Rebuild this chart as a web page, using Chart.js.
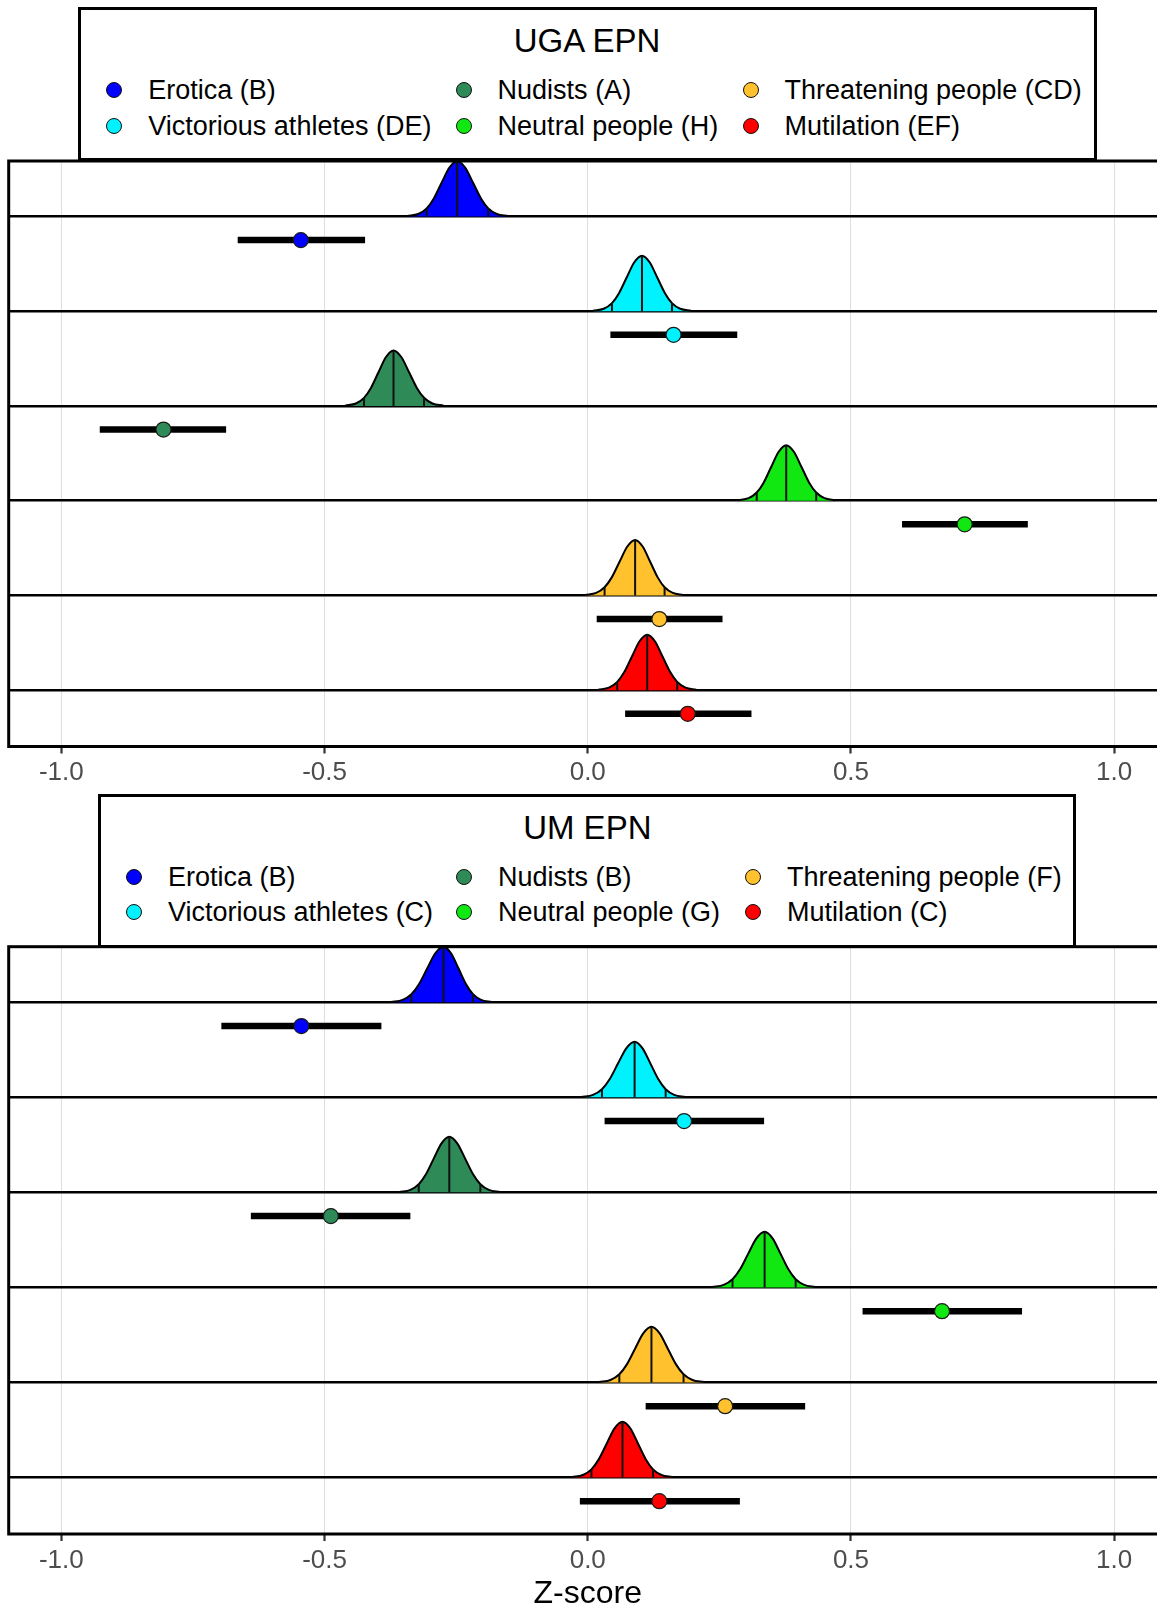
<!DOCTYPE html>
<html>
<head>
<meta charset="utf-8">
<title>EPN ridge plots</title>
<script src="https://cdn.jsdelivr.net/npm/chart.js@4.4.1/dist/chart.umd.min.js"></script>
<style>
  html, body { margin: 0; padding: 0; background: #fff; overflow: hidden; width: 1157px; height: 1610px; }
  canvas { position: absolute; left: 0; }
  .legend {
    position: absolute; background: #fff; border: 3px solid #000; box-sizing: border-box;
    font-family: 'Liberation Sans', Arial, sans-serif; color: #000; z-index: 2;
  }
  .legend .title { position: absolute; left: 0; right: 0; text-align: center; font-size: 33px; line-height: 40px; }
  .legend .dot { position: absolute; width: 16px; height: 16px; border-radius: 50%; border: 1px solid #111; box-sizing: border-box; }
  .legend .lab { position: absolute; font-size: 27px; line-height: 34px; white-space: nowrap; }
</style>
</head>
<body>
<div id="legend-uga" class="legend" style="left:77.5px; top:6.7px; width:1019px; height:154px;"></div>
<canvas id="uga" width="1180" height="800" style="top:0px; width:1180px; height:800px;"></canvas>
<div id="legend-um" class="legend" style="left:98.3px; top:793.6px; width:978px; height:154px;"></div>
<canvas id="um" width="1180" height="810" style="top:800px; width:1180px; height:810px;"></canvas>

<script>
// --- categories, top row to bottom row ---
const categories = ['Erotica', 'Victorious athletes', 'Nudists', 'Neutral people', 'Threatening people', 'Mutilation'];
const catColors = ['#0000FF', '#00F2FF', '#2E8B57', '#11E811', '#FFC12E', '#FF0000'];

// letter groupings shown in the legends
const ugaLetters = ['B', 'DE', 'A', 'H', 'CD', 'EF'];
const umLetters = ['B', 'C', 'B', 'G', 'F', 'C'];

// --- UGA EPN: posterior density (median, 2.5%, 97.5%) ---
const ugaDensMedian = [-0.248, 0.103, -0.369, 0.377, 0.090, 0.113];
const ugaDensLo = [-0.306, 0.046, -0.425, 0.321, 0.032, 0.056];
const ugaDensHi = [-0.189, 0.160, -0.311, 0.434, 0.146, 0.170];
// --- UGA EPN: observed estimate with interval ---
const ugaEst = [-0.545, 0.163, -0.806, 0.716, 0.136, 0.190];
const ugaCiLo = [-0.665, 0.043, -0.927, 0.597, 0.017, 0.071];
const ugaCiHi = [-0.423, 0.284, -0.687, 0.836, 0.256, 0.311];

// --- UM EPN ---
const umDensMedian = [-0.274, 0.089, -0.263, 0.336, 0.121, 0.066];
const umDensLo = [-0.335, 0.027, -0.321, 0.275, 0.060, 0.007];
const umDensHi = [-0.218, 0.148, -0.204, 0.395, 0.182, 0.124];
const umEst = [-0.544, 0.183, -0.488, 0.673, 0.261, 0.136];
const umCiLo = [-0.696, 0.032, -0.640, 0.522, 0.110, -0.015];
const umCiHi = [-0.392, 0.335, -0.337, 0.825, 0.413, 0.289];

// ridge outline: offsets in sd units -> height relative to the peak
const ridgeSd = [-3.2, -2.5, -1.96, -1.5, -1, -0.5, 0, 0.5, 1, 1.5, 1.96, 2.5, 3.2];
const ridgeRel = [0.006, 0.044, 0.146, 0.325, 0.607, 0.882, 1, 0.882, 0.607, 0.325, 0.146, 0.044, 0.006];

const xTickValues = [-1.0, -0.5, 0.0, 0.5, 1.0];

Chart.defaults.font.family = "'Liberation Sans', Arial, sans-serif";

const PEAK = 0.585;     // ridge height, in rows
const POINT_DROP = 0.25; // estimate sits this far under its baseline

const panelFrame = {
  id: 'panelFrame',
  afterDatasetsDraw(chart) {
    const { ctx, chartArea: a } = chart;
    ctx.save();
    ctx.strokeStyle = '#000';
    ctx.lineWidth = 3;
    ctx.strokeRect(a.left, a.top, a.right - a.left, a.bottom - a.top);
    ctx.restore();
  }
};

function buildDatasets(med, lo, hi, est, ciLo, ciHi) {
  const sets = [];
  const n = categories.length;
  categories.forEach((cat, i) => {
    const base = n - 1 - i;
    const color = catColors[i];
    const sdL = (med[i] - lo[i]) / 1.96;
    const sdR = (hi[i] - med[i]) / 1.96;

    const curve = ridgeSd.map((s, k) => ({
      x: med[i] + s * (s < 0 ? sdL : sdR),
      y: base + ridgeRel[k] * PEAK
    }));
    sets.push({
      type: 'line', data: curve, order: 3,
      borderColor: '#000', borderWidth: 2, backgroundColor: color,
      fill: { value: base }, pointRadius: 0, cubicInterpolationMode: 'monotone'
    });

    // quantile lines at 2.5%, median, 97.5%
    [[lo[i], 2], [med[i], 6], [hi[i], 10]].forEach(([qx, k]) => {
      sets.push({
        type: 'line', order: 2,
        data: [{ x: qx, y: base }, { x: qx, y: base + ridgeRel[k] * PEAK }],
        borderColor: '#111', borderWidth: 2, pointRadius: 0, fill: false
      });
    });

    const yp = base - POINT_DROP;
    sets.push({
      type: 'line', order: 1,
      data: [{ x: ciLo[i], y: yp }, { x: ciHi[i], y: yp }],
      borderColor: '#000', borderWidth: 6.5, borderCapStyle: 'butt', pointRadius: 0, fill: false
    });
    sets.push({
      type: 'scatter', order: 0, label: cat,
      data: [{ x: est[i], y: yp }],
      pointRadius: 7.5, pointBackgroundColor: color, pointBorderColor: '#1a1a1a', pointBorderWidth: 1.2
    });
  });
  return sets;
}

function makePanel(id, datasets, opts) {
  return new Chart(document.getElementById(id), {
    type: 'line',
    data: { datasets },
    plugins: [panelFrame],
    options: {
      responsive: false,
      animation: false,
      events: [],
      devicePixelRatio: 1,
      layout: { padding: { left: 7.8, right: 13.2, top: opts.padTop, bottom: opts.padBottom } },
      plugins: { legend: { display: false }, tooltip: { enabled: false } },
      scales: {
        x: {
          type: 'linear', min: -1.1, max: 1.1,
          afterBuildTicks: s => { s.ticks = xTickValues.map(v => ({ value: v })); },
          afterFit: s => { s.height = opts.axisHeight; },
          border: { display: false },
          grid: { color: '#DEDEDE', lineWidth: 1, tickColor: '#333', tickLength: 7, tickWidth: 2.2 },
          ticks: {
            color: '#4D4D4D', font: { size: 26 }, padding: 4, maxRotation: 0, autoSkip: false,
            callback: v => v.toFixed(1)
          },
          title: opts.title
            ? { display: true, text: opts.title, color: '#000', font: { size: 32, lineHeight: 1 }, padding: { top: 0, bottom: 0 } }
            : { display: false }
        },
        y: {
          type: 'linear', min: -0.595, max: 5.585,
          afterBuildTicks: s => { s.ticks = categories.map((c, i) => ({ value: i })); },
          afterFit: s => { s.width = 0; },
          border: { display: false },
          grid: { color: '#000', lineWidth: 2.6, drawTicks: false },
          ticks: { display: false }
        }
      }
    }
  });
}

function buildLegend(id, title, letters, dotX) {
  const box = document.getElementById(id);
  const boxLeft = box.getBoundingClientRect().left + 3; // inside the border
  let html = `<div class="title" style="top:${34.6 - 3 - 20}px">${title}</div>`;
  categories.forEach((cat, i) => {
    const col = Math.floor(i / 2), row = i % 2;
    const cy = (row === 0 ? 83.8 : 118.9) - 3;
    const cx = dotX[col] - boxLeft;
    html += `<div class="dot" style="left:${cx - 8}px; top:${cy - 8}px; background:${catColors[i]}"></div>`;
    html += `<div class="lab" style="left:${cx + 34}px; top:${cy - 17}px">${cat} (${letters[i]})</div>`;
  });
  box.innerHTML = html;
}

buildLegend('legend-uga', 'UGA EPN', ugaLetters, [114.3, 463.6, 750.5]);
buildLegend('legend-um', 'UM EPN', umLetters, [134, 464, 753]);

makePanel('uga', buildDatasets(ugaDensMedian, ugaDensLo, ugaDensHi, ugaEst, ugaCiLo, ugaCiHi),
  { padTop: 161, padBottom: 9.5, axisHeight: 44 });
makePanel('um', buildDatasets(umDensMedian, umDensLo, umDensHi, umEst, umCiLo, umCiHi),
  { padTop: 146.7, padBottom: 0, axisHeight: 76, title: 'Z-score' });
</script>
</body>
</html>
